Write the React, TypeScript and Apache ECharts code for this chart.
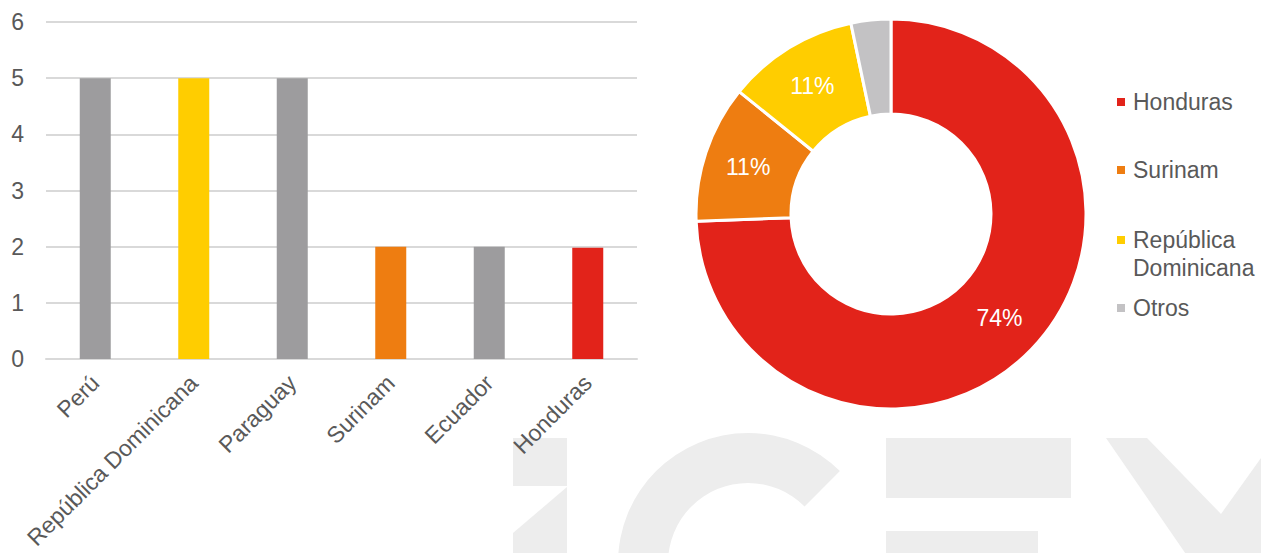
import React, { useEffect, useRef } from "react";
import * as echarts from "echarts";

const categories = ["Perú", "República Dominicana", "Paraguay", "Surinam", "Ecuador", "Honduras"];
const barValues = [5, 5, 5, 2, 2, 1.98];
const yTicks = [0, 1, 2, 3, 4, 5, 6];

const pieNames = ["Honduras", "Surinam", "República Dominicana", "Otros"];
const pieValues = [74.4, 11.4, 10.9, 3.3];
const legendLabels = ["Honduras", "Surinam", "República\nDominicana", "Otros"];

const GREY = "#9D9C9E";
const YELLOW = "#FFCD00";
const ORANGE = "#EE7D11";
const RED = "#E2231A";
const LIGHT = "#C3C2C4";
const barColorFor: Record<string, string> = {
  "Perú": GREY,
  "República Dominicana": YELLOW,
  "Paraguay": GREY,
  "Surinam": ORANGE,
  "Ecuador": GREY,
  "Honduras": RED,
};
const pieColors = [RED, ORANGE, YELLOW, LIGHT];
const TEXT = "#595959";
const FONT = "'Liberation Sans', Arial, sans-serif";
const WM = "#EDEDED";

export default function App() {
  const ref = useRef<HTMLDivElement>(null);
  useEffect(() => {
    if (!ref.current) return;
    const chart = echarts.init(ref.current, undefined, { renderer: "svg" });

    const legendY = [102, 170, 240, 308];
    const legendGraphics: any[] = [];
    legendLabels.forEach((lab, i) => {
      legendGraphics.push({
        type: "rect",
        shape: { x: 1117, y: legendY[i] - 4, width: 8, height: 8 },
        style: { fill: pieColors[i] },
      });
      legendGraphics.push({
        type: "text",
        x: 1133,
        y: legendY[i] - 14,
        style: {
          text: lab,
          fill: TEXT,
          font: `23px ${FONT}`,
          lineHeight: 28,
          textVerticalAlign: "top",
        },
      });
    });

    const watermark: any[] = [
      { type: "rect", z: -10, shape: { x: 513, y: 438, width: 54, height: 48 }, style: { fill: WM } },
      {
        type: "polygon",
        z: -10,
        shape: { points: [[567, 487], [567, 560], [513, 560], [513, 533]] },
        style: { fill: WM },
      },
      {
        type: "sector",
        z: -10,
        shape: { cx: 748, cy: 563, r0: 80, r: 130, startAngle: Math.PI / 4, endAngle: (7 * Math.PI) / 4, clockwise: true },
        style: { fill: WM },
      },
      { type: "rect", z: -10, shape: { x: 886, y: 438, width: 185, height: 60 }, style: { fill: WM } },
      { type: "rect", z: -10, shape: { x: 886, y: 531, width: 152, height: 30 }, style: { fill: WM } },
      {
        type: "polygon",
        z: -10,
        shape: { points: [[1106, 438], [1147, 438], [1221, 514], [1261, 458], [1261, 560], [1190, 560]] },
        style: { fill: WM },
      },
    ];

    chart.setOption({
      animation: false,
      grid: { left: 46, top: 22, width: 591, height: 337, containLabel: false },
      xAxis: {
        type: "category",
        data: categories,
        axisTick: { show: false },
        axisLine: { lineStyle: { color: "#D9D9D9", width: 2 } },
        axisLabel: {
          rotate: 45,
          interval: 0,
          color: TEXT,
          fontSize: 23,
          fontFamily: FONT,
          margin: 20,
        },
      },
      yAxis: {
        type: "value",
        min: 0,
        max: 6,
        interval: 1,
        axisLine: { show: false },
        axisTick: { show: false },
        splitLine: { lineStyle: { color: "#D9D9D9", width: 2 } },
        axisLabel: {
          color: TEXT,
          fontSize: 23,
          fontFamily: FONT,
          margin: 22,
          formatter: (v: number) => (yTicks.includes(v) ? String(v) : ""),
        },
      },
      series: [
        {
          type: "bar",
          barWidth: 31,
          data: barValues.map((v, i) => ({ value: v, itemStyle: { color: barColorFor[categories[i]] } })),
        },
        {
          type: "pie",
          center: [891, 214],
          radius: [100, 195],
          startAngle: 90,
          clockwise: true,
          itemStyle: { borderColor: "#FFFFFF", borderWidth: 3 },
          label: {
            show: true,
            position: "inside",
            color: "#FFFFFF",
            fontSize: 23,
            fontFamily: FONT,
            formatter: (p: any) => (p.dataIndex === 3 ? "" : Math.round(p.value) + "%"),
          },
          labelLine: { show: false },
          emphasis: { disabled: true },
          data: pieNames.map((n, i) => ({ name: n, value: pieValues[i], itemStyle: { color: pieColors[i] } })),
        },
      ],
      graphic: { elements: [...watermark, ...legendGraphics] },
    });
    return () => chart.dispose();
  }, []);
  return (
    <div
      ref={ref}
      style={{ position: "fixed", left: 0, top: 0, width: 1261, height: 553, background: "#FFFFFF" }}
    />
  );
}
